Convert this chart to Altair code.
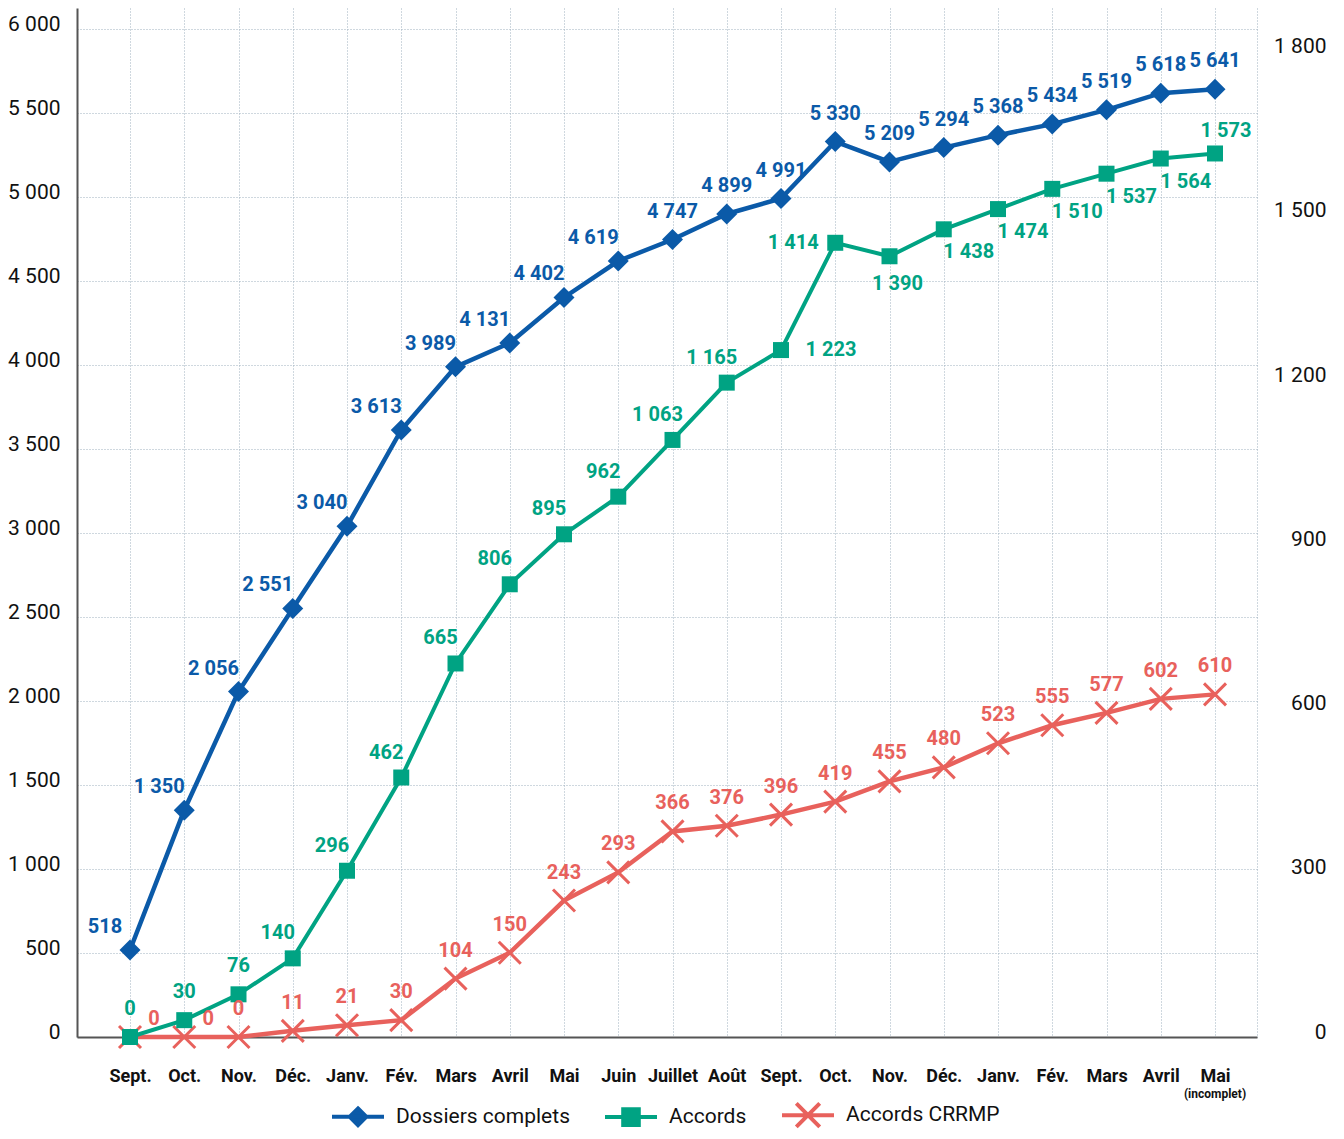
import json
import altair as alt
import pandas as pd

# ---------------- data ----------------
months = ["Sept.", "Oct.", "Nov.", "Déc.", "Janv.", "Fév.", "Mars", "Avril", "Mai",
          "Juin", "Juillet", "Août", "Sept.", "Oct.", "Nov.", "Déc.", "Janv.", "Fév.",
          "Mars", "Avril", "Mai"]
dossiers = [518, 1350, 2056, 2551, 3040, 3613, 3989, 4131, 4402, 4619, 4747, 4899,
            4991, 5330, 5209, 5294, 5368, 5434, 5519, 5618, 5641]
accords = [0, 30, 76, 140, 296, 462, 665, 806, 895, 962, 1063, 1165, 1223, 1414,
           1390, 1438, 1474, 1510, 1537, 1564, 1573]
crrmp = [0, 0, 0, 11, 21, 30, 104, 150, 243, 293, 366, 376, 396, 419, 455, 480,
         523, 555, 577, 602, 610]
series_names = ["Dossiers complets", "Accords", "Accords CRRMP"]
note_last = "(incomplet)"

# label placement codes (relative to each point)
place_dossiers = ["nw"] * 10 + ["n"] * 11
place_accords = ["n", "n", "n"] + ["nnw"] * 9 + ["e", "w", "s"] + ["se"] * 5 + ["nne"]
place_crrmp = ["ne", "ne"] + ["n"] * 19

# ---------------- styles ----------------
FONT = "Roboto, Liberation Sans, sans-serif"
BLUE, GREEN, RED = "#0b5aa8", "#00a383", "#e8615c"
GRID = "#9fb0bf"
OFF = {"nw": (-25, -23), "nnw": (-15, -25), "n": (0, -28), "nne": (11, -22),
       "ne": (24, -18), "e": (50, 0), "w": (-42, 0), "s": (8, 28), "se": (25, 23)}
W, H = 1180, 1029


def fmt(v):
    return f"{v:,}".replace(",", " ")


df = pd.DataFrame({
    "idx": list(range(len(months))),
    "dossiers": dossiers,
    "accords": accords,
    "crrmp": crrmp,
    "lab_d": [fmt(v) for v in dossiers],
    "lab_a": [fmt(v) for v in accords],
    "lab_c": [fmt(v) for v in crrmp],
    "pos_d": place_dossiers,
    "pos_a": place_accords,
    "pos_c": place_crrmp,
})
note_df = pd.DataFrame({"idx": [len(months) - 1], "note": [note_last]})
legend_df = pd.DataFrame({"series": series_names, "zero": [0, 0, 0]})

xmax = len(months) - 1 + 0.774
month_expr = json.dumps(months, ensure_ascii=False)
x_enc = alt.X(
    "idx:Q",
    scale=alt.Scale(domain=[-0.977, xmax], nice=False, zero=False),
    axis=alt.Axis(
        values=list(range(len(months))) + [xmax],
        labelExpr=f"datum.value > {len(months) - 0.5} ? '' : {month_expr}[datum.value]",
        grid=True, gridDash=[1, 2], gridColor=GRID, gridWidth=1,
        ticks=False, domainColor="#555555", domainWidth=2,
        labelFont=FONT, labelFontSize=18, labelFontWeight="bold", labelColor="#111111",
        labelPadding=30, labelFlush=False, labelOverlap=False, title=None,
    ),
)

num_expr = "replace(format(datum.value, ','), ',', ' ')"

y_left = alt.Y(
    "dossiers:Q",
    scale=alt.Scale(domain=[0, 6125], nice=False),
    axis=alt.Axis(
        orient="left", values=list(range(0, 6001, 500)), labelExpr=num_expr,
        grid=True, gridDash=[1, 2], gridColor=GRID, gridWidth=1,
        ticks=False, domainColor="#555555", domainWidth=2,
        labelFont=FONT, labelFontSize=21, labelColor="#111111",
        labelPadding=17, labelOffset=-5, title=None,
    ),
)


def y_right(field):
    return alt.Y(f"{field}:Q", scale=alt.Scale(domain=[0, 1832], nice=False), axis=None)


def text_layers(field, lab, pos, codes, color):
    out = []
    for c in dict.fromkeys(codes):
        dx, dy = OFF[c]
        out.append(
            alt.Chart(df).transform_filter(alt.datum[pos] == c)
            .mark_text(font=FONT, fontSize=20, fontWeight="bold", color=color,
                       align="center", baseline="middle", dx=dx, dy=dy)
            .encode(x=x_enc, y=field, text=f"{lab}:N")
        )
    return out


# ---------- layer A : Dossiers complets (left axis) ----------
base_a = alt.Chart(df)
line_a = base_a.mark_line(color=BLUE, strokeWidth=4.5).encode(x=x_enc, y=y_left)
pts_a = base_a.mark_point(shape="diamond", filled=True, color=BLUE, size=441, opacity=1).encode(x=x_enc, y=y_left)
note = alt.Chart(note_df).mark_text(font=FONT, fontSize=12, fontWeight="bold", color="#111111",
                                    baseline="middle").encode(x=x_enc, y=alt.value(H + 57), text="note:N")
layer_a = alt.layer(line_a, pts_a, *text_layers(y_left, "lab_d", "pos_d", place_dossiers, BLUE), note)

# ---------- layer B : Accords & Accords CRRMP (right scale) ----------
base_b = alt.Chart(df)
cross = "M-1,-1L1,1M-1,1L1,-1"
line_c = base_b.mark_line(color=RED, strokeWidth=4.5).encode(x=x_enc, y=y_right("crrmp"))
pts_c = base_b.mark_point(shape=cross, filled=False, color=RED, size=484, strokeWidth=3,
                          opacity=1).encode(x=x_enc, y=y_right("crrmp"))
line_g = base_b.mark_line(color=GREEN, strokeWidth=4).encode(x=x_enc, y=y_right("accords"))
pts_g = base_b.mark_point(shape="square", filled=True, color=GREEN, size=256,
                          opacity=1).encode(x=x_enc, y=y_right("accords"))
layer_b = alt.layer(
    line_c, pts_c, line_g, pts_g,
    *text_layers(y_right("accords"), "lab_a", "pos_a", place_accords, GREEN),
    *text_layers(y_right("crrmp"), "lab_c", "pos_c", place_crrmp, RED),
)

# ---------- layer C : right axis labels + legend ----------
legend_paths = [
    "M-1,0L1,0M0,-0.32L0.32,0L0,0.32L-0.32,0Z",
    "M-1,0L1,0M-0.3,-0.3L0.3,-0.3L0.3,0.3L-0.3,0.3Z",
    "M-1,0L1,0M-0.45,-0.45L0.45,0.45M-0.45,0.45L0.45,-0.45",
]
colors = [BLUE, GREEN, RED]
leg = alt.Legend(
    orient="none", legendX=253, legendY=1079, direction="horizontal", title=None,
    padding=0, symbolSize=2704, symbolStrokeWidth=4, symbolOpacity=1,
    labelFont=FONT, labelFontSize=21, labelColor="#111111", labelLimit=400,
    columnPadding=27, labelOffset=10,
)
layer_c = alt.Chart(legend_df).mark_point(opacity=0).encode(
    x=alt.value(0),
    y=alt.Y("zero:Q", scale=alt.Scale(domain=[0, 1880], nice=False),
            axis=alt.Axis(orient="right", values=list(range(0, 1801, 300)), labelExpr=num_expr,
                          grid=False, ticks=False, domain=False,
                          labelFont=FONT, labelFontSize=21, labelColor="#111111",
                          labelAlign="right", labelPadding=69, labelOffset=-5, title=None)),
    fill=alt.Fill("series:N", scale=alt.Scale(domain=series_names, range=colors), legend=leg),
    stroke=alt.Stroke("series:N", scale=alt.Scale(domain=series_names, range=colors), legend=leg),
    shape=alt.Shape("series:N", scale=alt.Scale(domain=series_names, range=legend_paths), legend=leg),
)

chart = alt.layer(layer_a, layer_b, layer_c).resolve_scale(y="independent").properties(
    width=W, height=H,
    autosize=alt.AutoSizeParams(type="none"),
    padding={"left": 69, "top": 0, "right": 75, "bottom": 94},
    background="white",
).configure_view(stroke=None)

chart.save("out.html", embed_options={"renderer": "svg", "actions": False})
